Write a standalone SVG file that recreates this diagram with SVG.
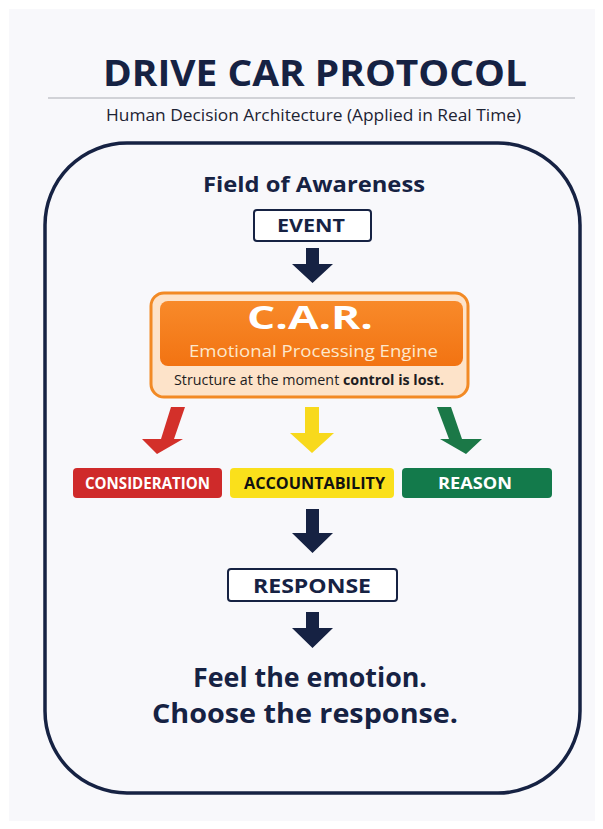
<svg xmlns="http://www.w3.org/2000/svg" width="603" height="829" viewBox="0 0 603 829">
  <defs>
    <linearGradient id="orangeGrad" x1="0" y1="0" x2="0" y2="1">
      <stop offset="0" stop-color="#f88a2a"/>
      <stop offset="1" stop-color="#f27312"/>
    </linearGradient>
    <style>
      .navy { fill: #162243; }
      .ttl { font-family: "Open Sans", Lato, sans-serif; font-weight: 700; fill: #162243; text-anchor: middle; }
      .reg { font-family: "Open Sans", Lato, sans-serif; font-weight: 400; fill: #1d2333; text-anchor: middle; }
      .box { fill: #ffffff; stroke: #162243; stroke-width: 2; }
      .lbl { font-family: "Open Sans", Lato, sans-serif; font-weight: 700; font-size: 15.5px; text-anchor: middle; }
    </style>
  </defs>

  <rect x="0" y="0" width="603" height="829" fill="#ffffff"/>
  <rect x="9" y="9" width="586" height="812" fill="#f8f8fb"/>

  <g id="header">
    <text class="ttl" x="315" y="86" font-size="35" textLength="424" lengthAdjust="spacingAndGlyphs">DRIVE CAR PROTOCOL</text>
    <line x1="48" y1="98" x2="575" y2="98" stroke="#a9acb4" stroke-width="1.2"/>
    <text class="reg" x="313.5" y="121" font-size="16" textLength="415" lengthAdjust="spacingAndGlyphs">Human Decision Architecture (Applied in Real Time)</text>
  </g>

  <g id="field">
    <rect x="45" y="143" width="535" height="650" rx="82" ry="82" fill="none" stroke="#162243" stroke-width="3.5"/>
    <text class="ttl" x="314" y="192" font-size="21" textLength="222" lengthAdjust="spacingAndGlyphs">Field of Awareness</text>
  </g>

  <g id="event">
    <rect class="box" x="254" y="210" width="117" height="31" rx="3"/>
    <text class="ttl" x="311" y="232" font-size="18" textLength="68" lengthAdjust="spacingAndGlyphs">EVENT</text>
  </g>

  <g id="car">
    <rect x="151" y="293" width="317" height="104" rx="13" fill="#fde3c9" stroke="#f28a25" stroke-width="3"/>
    <rect x="160" y="301" width="303" height="65" rx="8" fill="url(#orangeGrad)"/>
    <text x="310" y="329" font-family="'Open Sans', Lato, sans-serif" font-weight="700" font-size="33" fill="#ffffff" text-anchor="middle" textLength="126" lengthAdjust="spacingAndGlyphs">C.A.R.</text>
    <text x="313.5" y="357" font-family="'Open Sans', Lato, sans-serif" font-weight="400" font-size="17" fill="#fde8cc" text-anchor="middle" textLength="249" lengthAdjust="spacingAndGlyphs">Emotional Processing Engine</text>
    <text x="309" y="385" font-family="'Open Sans', Lato, sans-serif" font-size="14.5" fill="#1d1d22" text-anchor="middle" textLength="270" lengthAdjust="spacingAndGlyphs">Structure at the moment <tspan font-weight="700">control is lost.</tspan></text>
  </g>

  <g id="consideration">
    <rect x="73" y="468" width="149" height="30" rx="4" fill="#cf2a2a"/>
    <text class="lbl" x="147.5" y="488.5" fill="#ffffff" textLength="125" lengthAdjust="spacingAndGlyphs">CONSIDERATION</text>
  </g>
  <g id="accountability">
    <rect x="230" y="468" width="164" height="30" rx="4" fill="#fae01b"/>
    <text class="lbl" x="314.5" y="488.5" fill="#111111" textLength="141" lengthAdjust="spacingAndGlyphs">ACCOUNTABILITY</text>
  </g>
  <g id="reason">
    <rect x="402" y="468" width="150" height="30" rx="4" fill="#137a4b"/>
    <text class="lbl" x="475" y="488.5" fill="#ffffff" textLength="74" lengthAdjust="spacingAndGlyphs">REASON</text>
  </g>

  <g id="response">
    <rect class="box" x="228" y="569" width="169" height="32" rx="3"/>
    <text class="ttl" x="312" y="592.5" font-size="19" textLength="118" lengthAdjust="spacingAndGlyphs">RESPONSE</text>
  </g>

  <g id="tagline">
    <text class="ttl" x="310" y="687" font-size="26" textLength="234" lengthAdjust="spacingAndGlyphs">Feel the emotion.</text>
    <text class="ttl" x="305" y="723" font-size="26" textLength="306" lengthAdjust="spacingAndGlyphs">Choose the response.</text>
  </g>

  <g id="connectors">
    <polygon class="navy" points="306,248 319,248 319,264 333,264 312.5,283 292,264 306,264"/>
    <polygon fill="#d3302a" points="171,407 185,407 174,439 183,439 157,454 142,439 161,439"/>
    <polygon fill="#f8d91c" points="305,407 319,407 319,433 334,433 312,453 290,433 305,433"/>
    <polygon fill="#1b7847" points="437,407 451,407 462,439 482,439 466,454 440,439 449,439"/>
    <polygon class="navy" points="306,509 319,509 319,533 333,533 312.5,553 292,533 306,533"/>
    <polygon class="navy" points="306,612 319,612 319,628 333,628 312.5,648 292,628 306,628"/>
  </g>
</svg>
